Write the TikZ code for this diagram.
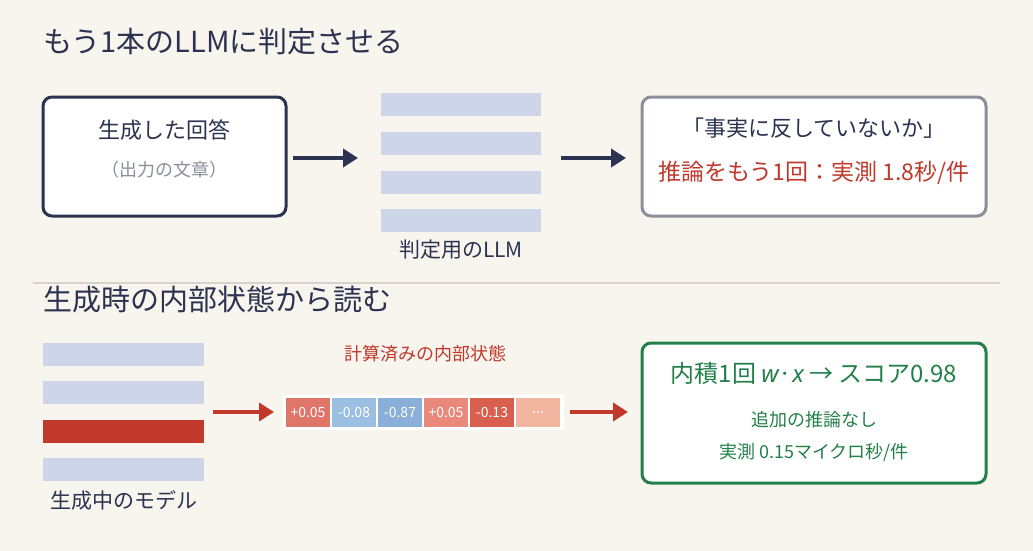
\documentclass[tikz,border=0pt]{standalone}
\usepackage{fontspec}
\setmainfont{Noto Sans CJK JP}
\newfontfamily\latin{Noto Sans}
\usetikzlibrary{arrows.meta}
\definecolor{bg}{HTML}{F8F4EE}
\definecolor{navy}{HTML}{2B3350}
\definecolor{bar}{HTML}{CDD5E8}
\definecolor{rd}{HTML}{C0392B}
\definecolor{gr}{HTML}{23804A}
\definecolor{gy}{HTML}{8A8F9A}
\definecolor{c1}{HTML}{E0756A}
\definecolor{c2}{HTML}{9BBFE0}
\definecolor{c3}{HTML}{8AAFD8}
\definecolor{c4}{HTML}{E8897C}
\definecolor{c5}{HTML}{D95F4E}
\definecolor{c6}{HTML}{F2B5A0}
\tikzset{
 box/.style={draw,line width=3pt,fill=white,rounded corners=9pt},
 bars/.style={fill=bar},
 arr/.style={line width=4pt,-{Triangle[length=15pt,width=18pt]}},
 cell/.style={draw=white,line width=1.5pt,minimum width=46pt,minimum height=31pt,text=white,font=\fontsize{14}{14}\selectfont,inner sep=0pt},
 ttl/.style={anchor=west,text=navy,font=\fontsize{29}{29}\selectfont},
}
\begin{document}
\begin{tikzpicture}[x=1pt,y=-1pt]
\fill[bg] (0,0) rectangle (1033,551);
\useasboundingbox (0,0) rectangle (1033,551);
\node[ttl] (t1) at (40,42) {もう1本のLLMに判定させる};
\draw[box,draw=navy] (43,97) rectangle (286,216);
\node[text=navy,font=\fontsize{22}{22}\selectfont] (a1) at (164.5,130) {生成した回答};
\node[text=gy,font=\fontsize{18}{18}\selectfont] (a2) at (164.5,170) {（出力の文章）};
\coordinate (p1) at (293,158); \coordinate (p2) at (358,158);
\draw[arr,navy] (p1) -- (p2);
\foreach \y in {93,132,171,209}{\fill[bars] (381,\y) rectangle (541,\y+23);}
\node[text=navy,font=\fontsize{21}{21}\selectfont] (l1) at (461,250) {判定用のLLM};
\coordinate (p3) at (561,158); \coordinate (p4) at (626,158);
\draw[arr,navy] (p3) -- (p4);
\draw[box,draw=gy] (642,97) rectangle (986,216);
\node[text=navy,font=\fontsize{22}{22}\selectfont] (b1) at (814,128) {「事実に反していないか」};
\node[text=rd,font=\fontsize{23}{23}\selectfont] (b2) at (814,173) {推論をもう1回：実測 1.8秒/件};
\draw[color={rgb,255:red,216;green,210;blue,204},line width=2pt] (33,283) -- (1000,283);
\node[ttl] (t2) at (40,300) {生成時の内部状態から読む};
\foreach \y in {343,381,458}{\fill[bars] (43,\y) rectangle (204,\y+23);}
\fill[rd] (43,420) rectangle (204,443);
\node[text=navy,font=\fontsize{21}{21}\selectfont] (l2) at (124,500) {生成中のモデル};
\coordinate (q1) at (213,412); \coordinate (q2) at (274,412);
\draw[arr,rd] (q1) -- (q2);
\node[text=rd,font=\fontsize{18}{18}\selectfont] (l3) at (425,354) {計算済みの内部状態};
\fill[white] (283,395) rectangle (564,430);
\node[cell,fill=c1] (v1) at (308,412.5) {+0.05};
\node[cell,fill=c2] (v2) at (354,412.5) {-0.08};
\node[cell,fill=c3] (v3) at (400,412.5) {-0.87};
\node[cell,fill=c4] (v4) at (446,412.5) {+0.05};
\node[cell,fill=c5] (v5) at (492,412.5) {-0.13};
\node[cell,fill=c6] (v6) at (538,412.5) {...};
\coordinate (q3) at (570,412); \coordinate (q4) at (628,412);
\draw[arr,rd] (q3) -- (q4);
\draw[box,draw=gr] (642,343) rectangle (986,483);
\node[text=gr,font=\fontsize{24}{24}\selectfont] (g1) at (814,373) {内積1回 {\latin\itshape w}·{\latin\itshape x} → スコア0.98};
\node[text=gr,font=\fontsize{18}{18}\selectfont] (g2) at (814,420) {追加の推論なし};
\node[text=gr,font=\fontsize{18}{18}\selectfont] (g3) at (814,453) {実測 0.15マイクロ秒/件};
\end{tikzpicture}
\end{document}
